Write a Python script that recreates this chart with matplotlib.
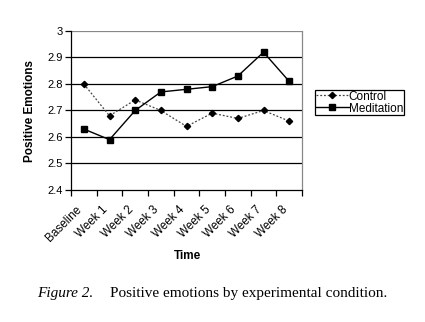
import matplotlib
matplotlib.use("Agg")
import matplotlib.pyplot as plt
import matplotlib.transforms as mtransforms
import numpy as np

categories = ["Baseline", "Week 1", "Week 2", "Week 3", "Week 4", "Week 5", "Week 6", "Week 7", "Week 8"]
control = [2.80, 2.68, 2.74, 2.70, 2.64, 2.69, 2.67, 2.70, 2.66]
meditation = [2.63, 2.59, 2.70, 2.77, 2.78, 2.79, 2.83, 2.92, 2.81]
yticks = [2.4, 2.5, 2.6, 2.7, 2.8, 2.9, 3.0]
ytick_labels = ["2.4", "2.5", "2.6", "2.7", "2.8", "2.9", "3"]

plt.rcParams['font.family'] = ['Liberation Sans', 'DejaVu Sans']

fig = plt.figure(figsize=(4.25, 3.22), dpi=100)
ax = fig.add_axes([71/425, 1-190/322, 231/425, 159/322])

x = np.arange(len(categories))
for yv in yticks[1:-1]:
    ax.axhline(yv, color='black', lw=0.9, zorder=1)
ax.axhline(3.0, color='#888888', lw=0.9, zorder=1)

ax.plot(x, control, linestyle=(0, (1.5, 1.5)), color='#444444', lw=0.9,
        marker='D', markersize=3.2, markerfacecolor='black', markeredgecolor='black',
        label='Control', zorder=3)
ax.plot(x, meditation, linestyle='-', color='black', lw=1.0,
        marker='s', markersize=4, markerfacecolor='black', markeredgecolor='black',
        label='Meditation', zorder=3)

ax.set_xlim(-0.5, len(categories) - 0.5)
ax.set_ylim(2.4, 3.0)
ax.set_yticks(yticks)
ax.set_yticklabels(ytick_labels, fontsize=8)
ax.set_xticks(np.arange(-0.5, len(categories), 1.0))
ax.set_xticklabels([])
ax.set_xticks(x, minor=True)
ax.set_xticklabels(categories, minor=True, rotation=45, ha='right', va='top',
                   rotation_mode='anchor', fontsize=8.5)
ax.tick_params(axis='x', which='minor', length=0, pad=4)
ax.tick_params(axis='x', which='major', length=4, width=0.9, direction='out')
ax.tick_params(axis='y', length=4, width=0.9, direction='out', pad=2)
offset = mtransforms.ScaledTranslation(-8/100, -8/100, fig.dpi_scale_trans)
for lbl in ax.get_xticklabels(minor=True):
    lbl.set_transform(lbl.get_transform() + offset)

ax.spines['top'].set_visible(False)
ax.spines['right'].set_color('#888888')
ax.spines['right'].set_linewidth(0.9)
ax.spines['left'].set_linewidth(0.9)
ax.spines['bottom'].set_linewidth(0.9)

ax.set_ylabel('Positive Emotions', fontsize=8.5, fontweight='bold', labelpad=8)
fig.text(187/425, 1-256/322, 'Time', fontsize=8.5, fontweight='bold', ha='center', va='center')

leg = fig.legend(loc='center', bbox_to_anchor=(359.5/425, 1-102.5/322), fontsize=8.5,
                 frameon=True, fancybox=False, edgecolor='black', framealpha=1,
                 handlelength=2.8, handletextpad=0.0, borderpad=0.05, labelspacing=0.0,
                 borderaxespad=0)
leg.get_frame().set_linewidth(0.9)

fig.text(37/425, 1-294/322, 'Figure 2.', fontsize=11, style='italic',
         family=['Liberation Serif'], ha='left', va='center')
fig.text(110/425, 1-294/322, 'Positive emotions by experimental condition.', fontsize=11,
         family=['Liberation Serif'], ha='left', va='center')

fig.savefig('out.png', dpi=100, facecolor='white')
